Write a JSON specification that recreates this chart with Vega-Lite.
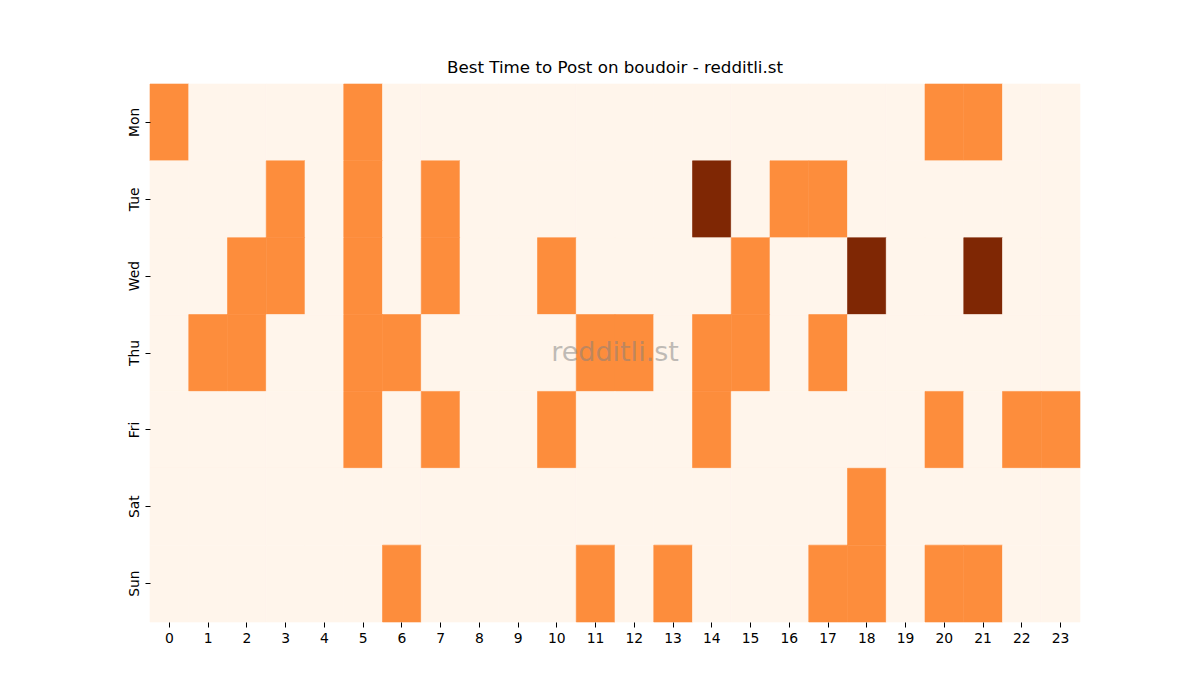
{
  "$schema": "https://vega.github.io/schema/vega-lite/v6.json",
  "width": 930,
  "height": 538,
  "autosize": {"type": "none"},
  "padding": {"left": 150, "top": 84, "right": 120, "bottom": 78},
  "background": "white",
  "title": {
    "text": "Best Time to Post on boudoir - redditli.st",
    "font": "DejaVu Sans",
    "fontSize": 16.7,
    "fontWeight": "normal",
    "color": "black",
    "offset": 7,
    "anchor": "middle"
  },
  "config": {
    "view": {"stroke": null},
    "axis": {
      "labelFont": "DejaVu Sans",
      "labelFontSize": 13.9,
      "labelColor": "black",
      "tickColor": "black",
      "tickSize": 5,
      "tickWidth": 1,
      "domain": false,
      "grid": false,
      "title": null
    }
  },
  "layer": [
    {
      "data": {
        "values": [
          {"day": "Mon", "hour": 0, "v": 1}, {"day": "Mon", "hour": 1, "v": 0}, {"day": "Mon", "hour": 2, "v": 0}, {"day": "Mon", "hour": 3, "v": 0}, {"day": "Mon", "hour": 4, "v": 0}, {"day": "Mon", "hour": 5, "v": 1}, {"day": "Mon", "hour": 6, "v": 0}, {"day": "Mon", "hour": 7, "v": 0}, {"day": "Mon", "hour": 8, "v": 0}, {"day": "Mon", "hour": 9, "v": 0}, {"day": "Mon", "hour": 10, "v": 0}, {"day": "Mon", "hour": 11, "v": 0}, {"day": "Mon", "hour": 12, "v": 0}, {"day": "Mon", "hour": 13, "v": 0}, {"day": "Mon", "hour": 14, "v": 0}, {"day": "Mon", "hour": 15, "v": 0}, {"day": "Mon", "hour": 16, "v": 0}, {"day": "Mon", "hour": 17, "v": 0}, {"day": "Mon", "hour": 18, "v": 0}, {"day": "Mon", "hour": 19, "v": 0}, {"day": "Mon", "hour": 20, "v": 1}, {"day": "Mon", "hour": 21, "v": 1}, {"day": "Mon", "hour": 22, "v": 0}, {"day": "Mon", "hour": 23, "v": 0},
          {"day": "Tue", "hour": 0, "v": 0}, {"day": "Tue", "hour": 1, "v": 0}, {"day": "Tue", "hour": 2, "v": 0}, {"day": "Tue", "hour": 3, "v": 1}, {"day": "Tue", "hour": 4, "v": 0}, {"day": "Tue", "hour": 5, "v": 1}, {"day": "Tue", "hour": 6, "v": 0}, {"day": "Tue", "hour": 7, "v": 1}, {"day": "Tue", "hour": 8, "v": 0}, {"day": "Tue", "hour": 9, "v": 0}, {"day": "Tue", "hour": 10, "v": 0}, {"day": "Tue", "hour": 11, "v": 0}, {"day": "Tue", "hour": 12, "v": 0}, {"day": "Tue", "hour": 13, "v": 0}, {"day": "Tue", "hour": 14, "v": 2}, {"day": "Tue", "hour": 15, "v": 0}, {"day": "Tue", "hour": 16, "v": 1}, {"day": "Tue", "hour": 17, "v": 1}, {"day": "Tue", "hour": 18, "v": 0}, {"day": "Tue", "hour": 19, "v": 0}, {"day": "Tue", "hour": 20, "v": 0}, {"day": "Tue", "hour": 21, "v": 0}, {"day": "Tue", "hour": 22, "v": 0}, {"day": "Tue", "hour": 23, "v": 0},
          {"day": "Wed", "hour": 0, "v": 0}, {"day": "Wed", "hour": 1, "v": 0}, {"day": "Wed", "hour": 2, "v": 1}, {"day": "Wed", "hour": 3, "v": 1}, {"day": "Wed", "hour": 4, "v": 0}, {"day": "Wed", "hour": 5, "v": 1}, {"day": "Wed", "hour": 6, "v": 0}, {"day": "Wed", "hour": 7, "v": 1}, {"day": "Wed", "hour": 8, "v": 0}, {"day": "Wed", "hour": 9, "v": 0}, {"day": "Wed", "hour": 10, "v": 1}, {"day": "Wed", "hour": 11, "v": 0}, {"day": "Wed", "hour": 12, "v": 0}, {"day": "Wed", "hour": 13, "v": 0}, {"day": "Wed", "hour": 14, "v": 0}, {"day": "Wed", "hour": 15, "v": 1}, {"day": "Wed", "hour": 16, "v": 0}, {"day": "Wed", "hour": 17, "v": 0}, {"day": "Wed", "hour": 18, "v": 2}, {"day": "Wed", "hour": 19, "v": 0}, {"day": "Wed", "hour": 20, "v": 0}, {"day": "Wed", "hour": 21, "v": 2}, {"day": "Wed", "hour": 22, "v": 0}, {"day": "Wed", "hour": 23, "v": 0},
          {"day": "Thu", "hour": 0, "v": 0}, {"day": "Thu", "hour": 1, "v": 1}, {"day": "Thu", "hour": 2, "v": 1}, {"day": "Thu", "hour": 3, "v": 0}, {"day": "Thu", "hour": 4, "v": 0}, {"day": "Thu", "hour": 5, "v": 1}, {"day": "Thu", "hour": 6, "v": 1}, {"day": "Thu", "hour": 7, "v": 0}, {"day": "Thu", "hour": 8, "v": 0}, {"day": "Thu", "hour": 9, "v": 0}, {"day": "Thu", "hour": 10, "v": 0}, {"day": "Thu", "hour": 11, "v": 1}, {"day": "Thu", "hour": 12, "v": 1}, {"day": "Thu", "hour": 13, "v": 0}, {"day": "Thu", "hour": 14, "v": 1}, {"day": "Thu", "hour": 15, "v": 1}, {"day": "Thu", "hour": 16, "v": 0}, {"day": "Thu", "hour": 17, "v": 1}, {"day": "Thu", "hour": 18, "v": 0}, {"day": "Thu", "hour": 19, "v": 0}, {"day": "Thu", "hour": 20, "v": 0}, {"day": "Thu", "hour": 21, "v": 0}, {"day": "Thu", "hour": 22, "v": 0}, {"day": "Thu", "hour": 23, "v": 0},
          {"day": "Fri", "hour": 0, "v": 0}, {"day": "Fri", "hour": 1, "v": 0}, {"day": "Fri", "hour": 2, "v": 0}, {"day": "Fri", "hour": 3, "v": 0}, {"day": "Fri", "hour": 4, "v": 0}, {"day": "Fri", "hour": 5, "v": 1}, {"day": "Fri", "hour": 6, "v": 0}, {"day": "Fri", "hour": 7, "v": 1}, {"day": "Fri", "hour": 8, "v": 0}, {"day": "Fri", "hour": 9, "v": 0}, {"day": "Fri", "hour": 10, "v": 1}, {"day": "Fri", "hour": 11, "v": 0}, {"day": "Fri", "hour": 12, "v": 0}, {"day": "Fri", "hour": 13, "v": 0}, {"day": "Fri", "hour": 14, "v": 1}, {"day": "Fri", "hour": 15, "v": 0}, {"day": "Fri", "hour": 16, "v": 0}, {"day": "Fri", "hour": 17, "v": 0}, {"day": "Fri", "hour": 18, "v": 0}, {"day": "Fri", "hour": 19, "v": 0}, {"day": "Fri", "hour": 20, "v": 1}, {"day": "Fri", "hour": 21, "v": 0}, {"day": "Fri", "hour": 22, "v": 1}, {"day": "Fri", "hour": 23, "v": 1},
          {"day": "Sat", "hour": 0, "v": 0}, {"day": "Sat", "hour": 1, "v": 0}, {"day": "Sat", "hour": 2, "v": 0}, {"day": "Sat", "hour": 3, "v": 0}, {"day": "Sat", "hour": 4, "v": 0}, {"day": "Sat", "hour": 5, "v": 0}, {"day": "Sat", "hour": 6, "v": 0}, {"day": "Sat", "hour": 7, "v": 0}, {"day": "Sat", "hour": 8, "v": 0}, {"day": "Sat", "hour": 9, "v": 0}, {"day": "Sat", "hour": 10, "v": 0}, {"day": "Sat", "hour": 11, "v": 0}, {"day": "Sat", "hour": 12, "v": 0}, {"day": "Sat", "hour": 13, "v": 0}, {"day": "Sat", "hour": 14, "v": 0}, {"day": "Sat", "hour": 15, "v": 0}, {"day": "Sat", "hour": 16, "v": 0}, {"day": "Sat", "hour": 17, "v": 0}, {"day": "Sat", "hour": 18, "v": 1}, {"day": "Sat", "hour": 19, "v": 0}, {"day": "Sat", "hour": 20, "v": 0}, {"day": "Sat", "hour": 21, "v": 0}, {"day": "Sat", "hour": 22, "v": 0}, {"day": "Sat", "hour": 23, "v": 0},
          {"day": "Sun", "hour": 0, "v": 0}, {"day": "Sun", "hour": 1, "v": 0}, {"day": "Sun", "hour": 2, "v": 0}, {"day": "Sun", "hour": 3, "v": 0}, {"day": "Sun", "hour": 4, "v": 0}, {"day": "Sun", "hour": 5, "v": 0}, {"day": "Sun", "hour": 6, "v": 1}, {"day": "Sun", "hour": 7, "v": 0}, {"day": "Sun", "hour": 8, "v": 0}, {"day": "Sun", "hour": 9, "v": 0}, {"day": "Sun", "hour": 10, "v": 0}, {"day": "Sun", "hour": 11, "v": 1}, {"day": "Sun", "hour": 12, "v": 0}, {"day": "Sun", "hour": 13, "v": 1}, {"day": "Sun", "hour": 14, "v": 0}, {"day": "Sun", "hour": 15, "v": 0}, {"day": "Sun", "hour": 16, "v": 0}, {"day": "Sun", "hour": 17, "v": 1}, {"day": "Sun", "hour": 18, "v": 1}, {"day": "Sun", "hour": 19, "v": 0}, {"day": "Sun", "hour": 20, "v": 1}, {"day": "Sun", "hour": 21, "v": 1}, {"day": "Sun", "hour": 22, "v": 0}, {"day": "Sun", "hour": 23, "v": 0}
        ]
      },
      "mark": {"type": "rect", "strokeWidth": 0.6},
      "encoding": {
        "x": {
          "field": "hour",
          "type": "ordinal",
          "scale": {"domain": [0,1,2,3,4,5,6,7,8,9,10,11,12,13,14,15,16,17,18,19,20,21,22,23], "paddingInner": 0, "paddingOuter": 0},
          "axis": {"labelAngle": 0, "labelPadding": 4}
        },
        "y": {
          "field": "day",
          "type": "nominal",
          "scale": {"domain": ["Mon", "Tue", "Wed", "Thu", "Fri", "Sat", "Sun"], "paddingInner": 0, "paddingOuter": 0},
          "axis": {"labelAngle": -90, "labelAlign": "center", "labelBaseline": "bottom", "labelPadding": 4}
        },
        "color": {
          "field": "v",
          "type": "quantitative",
          "scale": {"domain": [0, 1, 2], "range": ["#fff5eb", "#fd8d3c", "#7f2704"]},
          "legend": null
        },
        "stroke": {
          "field": "v",
          "type": "quantitative",
          "scale": {"domain": [0, 1, 2], "range": ["#fff5eb", "#fd8d3c", "#7f2704"]},
          "legend": null
        }
      }
    },
    {
      "data": {"values": [{"label": "redditli.st", "hour": 12, "day": "Thu"}]},
      "mark": {"type": "text", "font": "DejaVu Sans", "fontSize": 27, "fill": "#808080", "fillOpacity": 0.5, "align": "center", "baseline": "middle"},
      "encoding": {
        "text": {"field": "label"},
        "x": {"field": "hour", "type": "ordinal", "bandPosition": 0},
        "y": {"field": "day", "type": "nominal", "bandPosition": 0.5}
      }
    }
  ]
}
